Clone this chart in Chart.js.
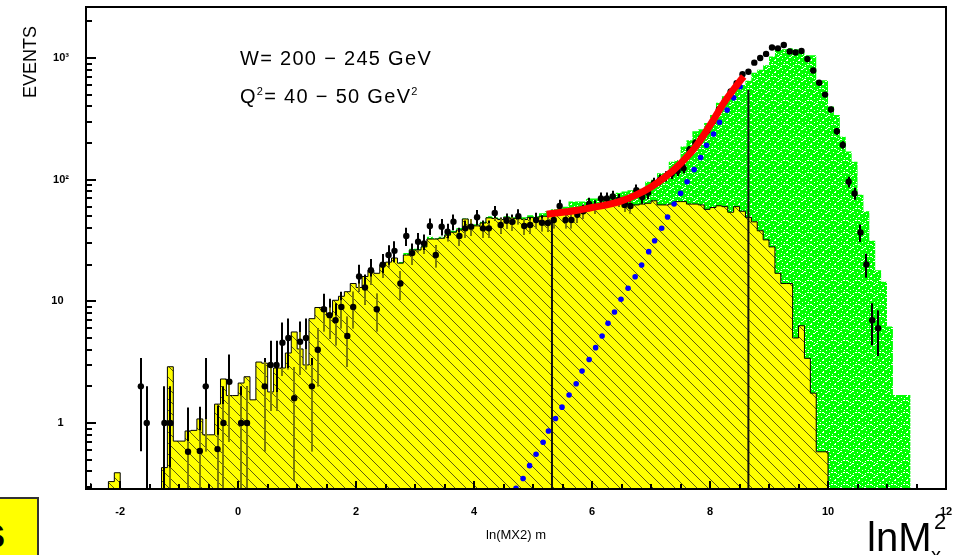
<!DOCTYPE html>
<html>
<head>
<meta charset="utf-8">
<script src="https://cdn.jsdelivr.net/npm/chart.js@4.4.1/dist/chart.umd.min.js"></script>
<style>
body { margin: 0; background: #fff; }
#wrap { position: relative; width: 956px; height: 555px; overflow: hidden; font-family: "Liberation Sans", Arial, sans-serif; }
canvas { position: absolute; left: 0; top: 0; }
.t { position: absolute; white-space: nowrap; color: #000; line-height: 1; }
.t sup { font-size: 0.55em; vertical-align: 0.75em; }
</style>
</head>
<body>
<div id="wrap">
  <canvas id="chart" width="956" height="555"></canvas>
  <div class="t" style="left:30px;top:62px;font-size:18px;transform:translate(-50%,-50%) rotate(-90deg);">EVENTS</div>
  <div class="t" style="left:240px;top:48px;font-size:20px;letter-spacing:1.3px;">W= 200 − 245 GeV</div>
  <div class="t" style="left:240px;top:86px;font-size:20px;letter-spacing:1.3px;">Q<sup>2</sup>= 40 − 50 GeV<sup>2</sup></div>
  <div class="t" style="left:867px;top:517px;font-size:40px;">lnM</div>
  <div class="t" style="left:931px;top:545px;font-size:20px;">x</div>
  <div class="t" style="left:934px;top:511px;font-size:22px;">2</div>
  <div style="position:absolute;left:-4px;top:497px;width:39px;height:62px;background:#ffff00;border:2px solid #333;overflow:hidden;">
    <div class="t" style="left:-17px;top:12px;font-size:44px;font-weight:bold;">s</div>
  </div>
</div>
<script>
// axis ranges
const xMin = -2.58, xMax = 12
const yMin = 0.2868, yMax = 2624

const binWidth = 0.1

// yellow hatched histogram, bins from -2.5 to 9.9
const yellowStart = -2.5
const yellowCounts = [
  0.32, 0, 0, 0, 0.33, 0.39, 0, 0, 0, 0,
  0, 0, 0, 0.43, 2.9, 0.71, 0.71, 0.86, 0.87, 1.08,
  0.8, 0.8, 1.43, 2.3, 1.68, 1.68, 2.13, 2.4, 1.55, 3.17,
  3.1, 1.8, 2.83, 2.83, 3.76, 5.6, 4.06, 3.0, 7.2, 8.9,
  8.9, 7.7, 10.2, 11, 12, 14, 13, 16, 18, 17,
  20, 21, 22.7, 20.6, 24, 26.4, 26.4, 28, 32.5, 32.5,
  33, 35, 37, 38.6, 47.5, 42, 41.7, 44, 48.5, 48,
  47, 49, 48, 48, 47, 49, 48, 50, 50, 51,
  53, 56, 55, 57, 60, 60, 59, 62, 67, 67,
  67, 66, 62, 62, 63, 64, 67, 62, 62, 63,
  66, 66, 63, 63, 62, 57, 59, 61, 60, 54,
  60, 55, 49, 45, 38, 32, 28, 17, 14, 14,
  5.0, 6.3, 3.4, 1.76, 0.58
]

// green histogram, bins from 2.7 to 11.3
const greenStart = 2.7
const greenCounts = [
  29, 21, 25, 27, 27, 29, 34, 33, 34, 36,
  38, 40, 48, 43, 43, 45, 50, 49, 48, 50,
  49, 50, 49, 51, 50, 53, 55, 57, 58, 60,
  66, 66, 66, 70, 70, 70, 72, 75, 78, 80,
  82, 82, 84, 96, 100, 113, 113, 140, 145, 187,
  211, 250, 260, 292, 340, 428, 485, 545, 570, 600,
  650, 755, 800, 870, 1030, 1180, 1180, 1200, 1180, 1110,
  1055, 1055, 655, 655, 400, 340, 225, 170, 140, 75,
  55, 31.5, 18, 14.5, 6.2, 1.7, 1.7
]

// data points (bin centres)
const dataX = [
  -1.65, -1.55, -1.25, -1.15, -0.85, -0.65, -0.55, -0.35, -0.25, -0.15,
  0.05, 0.15, 0.45, 0.55, 0.65, 0.75, 0.85, 0.95, 1.05, 1.15,
  1.25, 1.35, 1.45, 1.55, 1.65, 1.75, 1.85, 1.95, 2.05, 2.15,
  2.25, 2.35, 2.45, 2.55, 2.65, 2.75, 2.85, 2.95, 3.05, 3.15,
  3.25, 3.35, 3.45, 3.55, 3.65, 3.75, 3.85, 3.95, 4.05, 4.15,
  4.25, 4.35, 4.45, 4.55, 4.65, 4.75, 4.85, 4.95, 5.05, 5.15,
  5.25, 5.35, 5.45, 5.55, 5.65, 5.75, 5.85, 5.95, 6.05, 6.15,
  6.25, 6.35, 6.45, 6.55, 6.65, 6.75, 6.85, 6.95, 7.05, 7.15,
  7.25, 7.35, 7.45, 7.55, 7.65, 7.75, 7.85, 7.95, 8.05, 8.15,
  8.25, 8.35, 8.45, 8.55, 8.65, 8.75, 8.85, 8.95, 9.05, 9.15,
  9.25, 9.35, 9.45, 9.55, 9.65, 9.75, 9.85, 9.95, 10.05, 10.15,
  10.25, 10.35, 10.45, 10.55, 10.65, 10.75, 10.85
]
const dataY = [
  2.0, 1.0, 1.0, 1.0, 0.58, 0.59, 2.0, 0.61, 1.0, 2.18,
  1.0, 1.0, 2.0, 3.0, 3.0, 4.57, 5.0, 1.6, 4.66, 5.0,
  2.0, 4.0, 8.6, 7.7, 7.0, 9.0, 5.2, 9.0, 16, 13,
  18, 8.6, 20, 24, 26, 14, 34.4, 24.9, 30.9, 29.9,
  41.6, 24, 41.1, 37.3, 45.1, 34.4, 39.8, 41.1, 49.2, 39.8,
  39.8, 53.3, 42.4, 46, 45, 50, 41.6, 42.4, 46.6, 44.3,
  44, 46.6, 60.7, 46.6, 46.6, 51.4, 55, 63, 60, 70,
  70, 72.6, 68, 62, 60.7, 82, 72, 78, 94, 100,
  107, 112, 118, 124, 176, 200, 220, 250, 300, 377,
  440, 530, 620, 735, 770, 915, 1000, 1080, 1220, 1200,
  1280, 1130, 1110, 1140, 980, 790, 625, 500, 377, 250,
  193, 96, 77, 36.8, 20.1, 7.0, 6.0
]

// blue dotted curve
const blueX = [
  4.71, 4.83, 4.94, 5.05, 5.17, 5.26, 5.38, 5.49, 5.61, 5.73,
  5.83, 5.95, 6.06, 6.17, 6.27, 6.38, 6.49, 6.61, 6.73, 6.84,
  6.96, 7.06, 7.18, 7.28, 7.39, 7.50, 7.61, 7.73, 7.84, 7.94,
  8.06, 8.16, 8.29, 8.40, 8.51
]
const blueY = [
  0.29, 0.35, 0.446, 0.553, 0.694, 0.86, 1.09, 1.35, 1.70, 2.10,
  2.67, 3.33, 4.16, 5.19, 6.59, 8.17, 10.4, 12.8, 15.9, 19.9,
  25.6, 31.5, 39.9, 49.3, 63, 77.4, 96, 121, 152, 192,
  237, 296, 373, 470, 580
]

// red fit curve
const redX = [5.23, 5.5, 5.75, 6.0, 6.25, 6.5, 6.75, 7.0, 7.25, 7.5, 7.75, 8.0, 8.25, 8.5, 8.57]
const redY = [52, 54, 56, 59, 62, 67, 75, 87, 106, 136, 185, 280, 440, 640, 705]

// vertical cut lines
const cutX = [5.32, 8.65]
const cutTop = [48, 545]

const xTickValues = [-2, 0, 2, 4, 6, 8, 10, 12]
const yTickValues = [1, 10, 100, 1000]
const yTickLabels = ['1\u2005\u2005', '10\u2005\u2005', '10²', '10³']

function histPoints(start, counts) {
  let pts = [{ x: start, y: yMin }]
  counts.forEach((c, i) => {
    pts.push({ x: start + i * binWidth, y: c > 0 ? c : yMin })
  })
  let end = start + counts.length * binWidth
  pts.push({ x: end, y: counts[counts.length - 1] })
  pts.push({ x: end, y: yMin })
  return pts
}

function hatchPattern() {
  let c = document.createElement('canvas')
  c.width = 11; c.height = 11
  let g = c.getContext('2d')
  g.fillStyle = '#ffff00'
  g.fillRect(0, 0, 11, 11)
  g.strokeStyle = '#5c5c10'
  g.lineWidth = 1
  g.beginPath(); g.moveTo(0, 0); g.lineTo(11, 11); g.stroke()
  return g.createPattern(c, 'repeat')
}

function speckPattern() {
  let c = document.createElement('canvas')
  c.width = 12; c.height = 12
  let g = c.getContext('2d')
  g.fillStyle = '#00ff00'
  g.fillRect(0, 0, 12, 12)
  g.fillStyle = '#ffffff'
  const specks = [[1,1],[6,0],[10,2],[3,4],[8,5],[0,7],[5,8],[11,8],[2,10],[7,11],[9,9],[4,2],[10,6],[1,5],[6,4]]
  specks.forEach(p => g.fillRect(p[0], p[1], (p[0] % 3 === 0) ? 2 : 1, 1))
  return g.createPattern(c, 'repeat')
}

const frame = {
  id: 'frame',
  afterDraw(chart) {
    const { ctx, chartArea: a, scales: { x, y } } = chart
    ctx.save()
    ctx.strokeStyle = '#000'
    ctx.lineWidth = 2
    ctx.beginPath()
    for (let e = -1; e <= 3; e++) {
      for (let m = 1; m <= 9; m++) {
        let v = m * Math.pow(10, e)
        if (v < y.min || v > y.max) continue
        let py = Math.round(y.getPixelForValue(v))
        ctx.moveTo(a.left, py)
        ctx.lineTo(a.left + (m === 1 ? 10 : 6), py)
      }
    }
    for (let k = -5; k <= 23; k++) {
      let v = k / 2
      let px = Math.round(x.getPixelForValue(v))
      ctx.moveTo(px, a.bottom)
      ctx.lineTo(px, a.bottom - (k % 4 === 0 ? 8 : 5))
    }
    ctx.stroke()
    ctx.strokeRect(a.left, a.top, a.right - a.left, a.bottom - a.top)
    ctx.restore()
  }
}

// area under the yellow histogram, used to tint the error bars inside it
function yellowArea(ctx, x, y) {
  let bottom = y.getPixelForValue(yMin)
  ctx.beginPath()
  ctx.moveTo(x.getPixelForValue(yellowStart), bottom)
  yellowCounts.forEach((c, i) => {
    let py = c > 0 ? y.getPixelForValue(c) : bottom
    ctx.lineTo(x.getPixelForValue(yellowStart + i * binWidth), py)
    ctx.lineTo(x.getPixelForValue(yellowStart + (i + 1) * binWidth), py)
  })
  ctx.lineTo(x.getPixelForValue(yellowStart + yellowCounts.length * binWidth), bottom)
  ctx.closePath()
}

function strokeBars(ctx, x, y, bottom) {
  ctx.beginPath()
  dataY.forEach((v, i) => {
    let err = Math.sqrt(v)
    let px = Math.round(x.getPixelForValue(dataX[i]))
    let lo = v - err
    ctx.moveTo(px, y.getPixelForValue(v + err))
    ctx.lineTo(px, lo > y.min ? y.getPixelForValue(lo) : bottom)
  })
  ctx.stroke()
}

const errorBars = {
  id: 'errorBars',
  beforeDatasetDraw(chart, args) {
    if (chart.data.datasets[args.index].label !== 'data') return
    const { ctx, chartArea: a, scales: { x, y } } = chart
    ctx.save()
    ctx.beginPath()
    ctx.rect(a.left, a.top, a.right - a.left, a.bottom - a.top)
    ctx.clip()
    ctx.lineWidth = 2
    ctx.strokeStyle = '#000'
    strokeBars(ctx, x, y, a.bottom)
    yellowArea(ctx, x, y)
    ctx.clip()
    ctx.strokeStyle = '#7d7d08'
    strokeBars(ctx, x, y, a.bottom)
    ctx.restore()
  }
}

const ctx = document.getElementById('chart').getContext('2d')

new Chart(ctx, {
  type: 'line',
  data: {
    datasets: [
      {
        label: 'fit',
        data: redX.map((v, i) => ({ x: v, y: redY[i] })),
        borderColor: '#ff0000',
        borderWidth: 7,
        pointRadius: 0,
        cubicInterpolationMode: 'monotone',
        fill: false,
        order: 1
      },
      {
        label: 'data',
        data: dataX.map((v, i) => ({ x: v, y: dataY[i] })),
        showLine: false,
        pointRadius: 3.2,
        pointBackgroundColor: '#000',
        pointBorderColor: '#000',
        pointBorderWidth: 0,
        order: 2
      },
      {
        label: 'blue',
        data: blueX.map((v, i) => ({ x: v, y: blueY[i] })),
        showLine: false,
        pointRadius: 2.8,
        pointBackgroundColor: '#0000ff',
        pointBorderColor: '#0000ff',
        pointBorderWidth: 0,
        order: 3
      },
      {
        label: 'cut1',
        data: [{ x: cutX[0], y: yMin }, { x: cutX[0], y: cutTop[0] }],
        borderColor: '#111',
        borderWidth: 2,
        pointRadius: 0,
        order: 4
      },
      {
        label: 'cut2',
        data: [{ x: cutX[1], y: yMin }, { x: cutX[1], y: cutTop[1] }],
        borderColor: '#111',
        borderWidth: 2,
        pointRadius: 0,
        order: 4
      },
      {
        label: 'yellow',
        data: histPoints(yellowStart, yellowCounts),
        stepped: 'after',
        borderColor: '#000',
        borderWidth: 1,
        backgroundColor: hatchPattern(),
        fill: 'start',
        pointRadius: 0,
        order: 5
      },
      {
        label: 'green',
        data: histPoints(greenStart, greenCounts),
        stepped: 'after',
        borderColor: 'rgba(0,0,0,0)',
        borderWidth: 0,
        backgroundColor: speckPattern(),
        fill: 'start',
        pointRadius: 0,
        order: 6
      }
    ]
  },
  options: {
    responsive: false,
    animation: false,
    events: [],
    layout: { padding: { top: 7, right: 10, left: 0, bottom: 0 } },
    plugins: { legend: { display: false }, tooltip: { enabled: false } },
    scales: {
      x: {
        type: 'linear',
        min: xMin,
        max: xMax,
        grid: { display: false },
        border: { display: false },
        afterFit(s) {
          s.height = 66
          s.paddingLeft = 0
          s.paddingRight = 0
        },
        afterBuildTicks(s) { s.ticks = xTickValues.map(v => ({ value: v })) },
        ticks: {
          autoSkip: false,
          maxRotation: 0,
          padding: 8,
          color: '#000',
          font: { family: 'Liberation Sans', size: 11, weight: 'bold' },
          callback: v => String(v)
        },
        title: {
          display: true,
          text: 'ln(MX2) m',
          color: '#000',
          font: { family: 'Liberation Sans', size: 13 },
          padding: { top: 0, bottom: 12 }
        }
      },
      y: {
        type: 'logarithmic',
        min: yMin,
        max: yMax,
        grid: { display: false },
        border: { display: false },
        afterFit(s) {
          s.width = 86
          s.paddingTop = 0
          s.paddingBottom = 0
        },
        afterBuildTicks(s) { s.ticks = yTickValues.map(v => ({ value: v })) },
        ticks: {
          autoSkip: false,
          padding: 9,
          color: '#000',
          font: { family: 'Liberation Sans', size: 11, weight: 'bold' },
          callback: v => yTickLabels[yTickValues.indexOf(v)]
        }
      }
    }
  },
  plugins: [frame, errorBars]
})
</script>
</body>
</html>
